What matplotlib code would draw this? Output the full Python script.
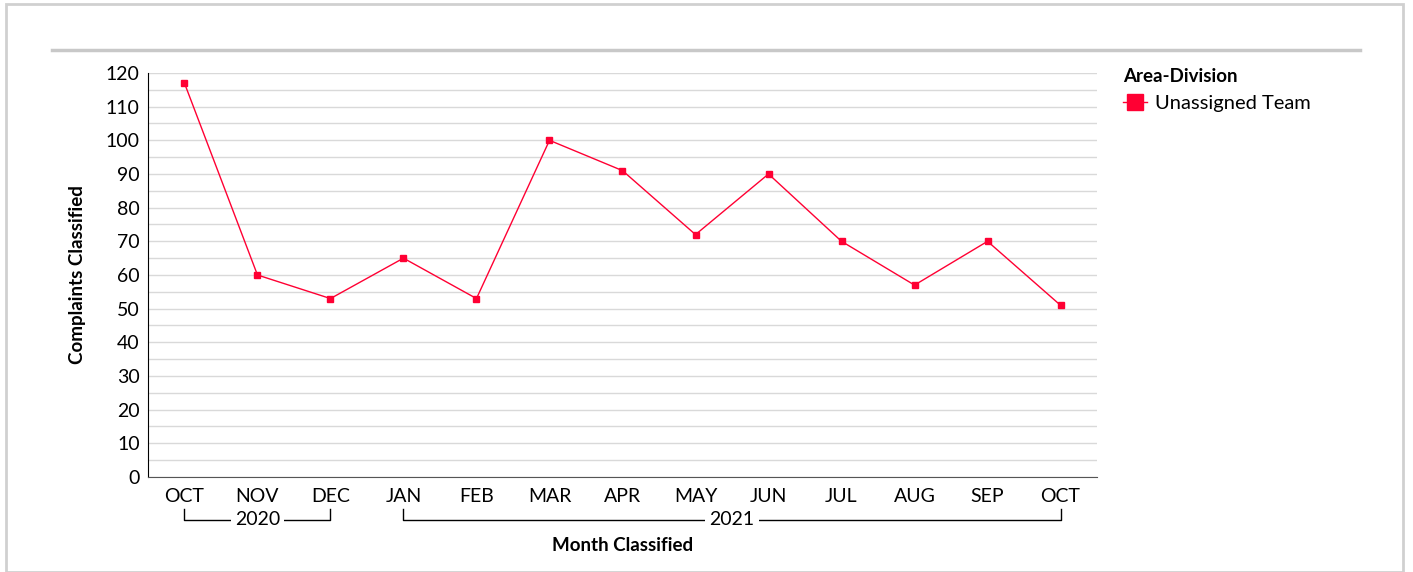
import matplotlib
matplotlib.use('Agg')
import matplotlib.pyplot as plt
from matplotlib.lines import Line2D
from matplotlib.patches import Rectangle

plt.rcParams['font.family'] = ['Lato', 'DejaVu Sans']

# data
months = ['OCT', 'NOV', 'DEC', 'JAN', 'FEB', 'MAR', 'APR', 'MAY', 'JUN', 'JUL', 'AUG', 'SEP', 'OCT']
years = ['2020', '2021']
year_spans = [(0, 2), (3, 12)]
complaints = [117, 60, 53, 65, 53, 100, 91, 72, 90, 70, 57, 70, 51]
series_name = 'Unassigned Team'
red = '#ff0033'

fig = plt.figure(figsize=(14.13, 5.72), dpi=100)
ax = fig.add_axes([0.1047, 0.1661, 0.6717, 0.7063])

x = list(range(len(months)))
ax.plot(x, complaints, color=red, lw=1, marker='s', ms=5, label=series_name)

ax.set_xlim(-0.5, len(months) - 0.5)
ax.set_ylim(0, 120)
ax.set_yticks(range(0, 121, 10))
ax.set_yticks(range(5, 120, 10), minor=True)
ax.grid(axis='y', which='both', color='#d9d9d9', lw=1)
ax.set_axisbelow(True)
ax.set_xticks(x)
ax.set_xticklabels(months)
ax.tick_params(axis='x', length=0, labelsize=14, pad=8)
ax.tick_params(axis='y', length=0, labelsize=14, pad=6)
ax.tick_params(axis='y', which='minor', length=0)
for s in ['top', 'right']:
    ax.spines[s].set_visible(False)
ax.spines['left'].set_color('black')
ax.spines['bottom'].set_color('#555555')

# year brackets under the month labels
tr = ax.get_xaxis_transform()
for yr, (a, b) in zip(years, year_spans):
    ax.plot([a, a, b, b], [-0.079, -0.106, -0.106, -0.079], color='black', lw=1,
            transform=tr, clip_on=False)
    ax.text((a + b) / 2, -0.106, yr, transform=tr, ha='center', va='center', fontsize=14,
            bbox=dict(facecolor='white', edgecolor='none', pad=3))

ax.set_xlabel('Month Classified', fontsize=13.5, fontweight='bold', labelpad=23)
ax.set_ylabel('Complaints Classified', fontsize=13.5, fontweight='bold', labelpad=14)

leg = ax.legend(loc='upper left', bbox_to_anchor=(0.7875, 0.899), bbox_transform=fig.transFigure,
                frameon=False, title='Area-Division', alignment='left', fontsize=14.5,
                title_fontproperties={'weight': 'bold', 'size': 13.5},
                handlelength=1.2, handletextpad=0.4, borderpad=0, labelspacing=0.5)
for h in leg.legend_handles:
    h.set_markersize(11)

# outer frame and top rule
fig.patches.append(Rectangle((6 / 1413, 0), 1397 / 1413, 1 - 4 / 572, transform=fig.transFigure,
                             fill=False, edgecolor='#d0d0d0', lw=2))
fig.lines.append(Line2D([52 / 1413, 1360 / 1413], [1 - 50 / 572] * 2, transform=fig.transFigure,
                        color='#c8c8c8', lw=2.5))

fig.savefig('out.png', dpi=100)
